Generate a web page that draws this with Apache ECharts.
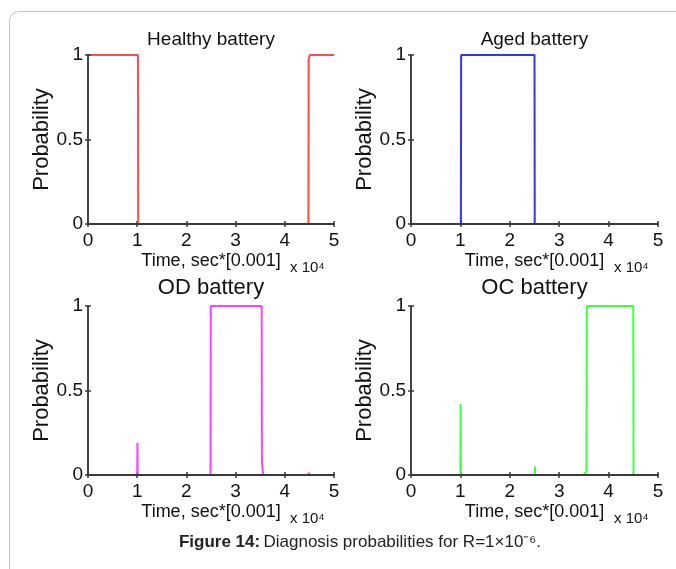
<!DOCTYPE html>
<html lang="en">
<head>
<meta charset="utf-8">
<title>Diagnosis probabilities</title>
<script src="https://cdn.jsdelivr.net/npm/echarts@6/dist/echarts.min.js"></script>
<style>
  html, body { margin: 0; padding: 0; background: #fff; }
  #frame { position: absolute; left: 9px; top: 11px; width: 700px; height: 600px;
           border-left: 1px solid #c4c4c4; border-top: 1px solid #c4c4c4; border-top-left-radius: 10px; }
  #main { position: absolute; left: 0; top: 0; width: 676px; height: 569px; }
</style>
</head>
<body>
<div id="frame"></div>
<div id="main"></div>
<script type="text/javascript">
// time (sec*[0.001]) and probability for each battery state
var healthyT = [0, 10150, 10200, 44800, 44850, 45050, 45100, 50000];
var healthyP = [1, 1, 0, 0, 0.975, 0.975, 1, 1];

var agedT = [0, 10100, 10150, 25000, 25050, 50000];
var agedP = [0, 0, 1, 1, 0, 0];

var odT = [0, 10000, 10050, 10100, 24900, 24950, 35300, 35350, 35550, 35600, 44800, 44850, 45000, 45050, 50000];
var odP = [0, 0, 0.19, 0, 0, 1, 1, 0.08, 0.08, 0, 0, 0.014, 0.014, 0, 0];

var ocT = [0, 10000, 10050, 10100, 25050, 25100, 25150, 34900, 35500, 35600, 45000, 45050, 50000];
var ocP = [0, 0, 0.42, 0, 0, 0.05, 0, 0, 0.02, 1, 1, 0, 0];

var titles = ['Healthy battery', 'Aged battery', 'OD battery', 'OC battery'];
var colors = ['#ff4d4d', '#3333ff', '#ff40ff', '#40ff40'];

var FONT = 'Liberation Sans, Arial, sans-serif';

function pairs(t, p) {
    var out = [];
    for (var i = 0; i < t.length; i++) out.push([t[i], p[i]]);
    return out;
}
var seriesData = [pairs(healthyT, healthyP), pairs(agedT, agedP), pairs(odT, odP), pairs(ocT, ocP)];

var boxes = [
    { left: 88, top: 55, width: 246, height: 169 },
    { left: 411, top: 55, width: 247, height: 169 },
    { left: 88, top: 306, width: 246, height: 169 },
    { left: 411, top: 306, width: 247, height: 169 }
];

var grid = [], xAxis = [], yAxis = [], series = [], graphic = [];
var lineStyle = { color: '#3a3a3a', width: 1.5 };

for (var k = 0; k < 4; k++) {
    var b = boxes[k];
    grid.push({ left: b.left, top: b.top, width: b.width, height: b.height, containLabel: false });

    // bottom axis with labels (drawn under the data, as in the original)
    xAxis.push({
        type: 'value', gridIndex: k, min: 0, max: 50000, interval: 10000, position: 'bottom', z: 0,
        name: 'Time, sec*[0.001]', nameLocation: 'middle', nameGap: 28,
        nameTextStyle: { fontFamily: FONT, fontSize: 18, color: '#111' },
        axisLine: { show: true, lineStyle: lineStyle },
        axisTick: { show: true, inside: true, length: 3, lineStyle: lineStyle },
        axisLabel: { fontFamily: FONT, fontSize: 19, color: '#111', margin: 7,
                     formatter: function (v) { return String(v / 10000); } },
        splitLine: { show: false }
    });
    // top axis, ticks only, over the data
    xAxis.push({
        type: 'value', gridIndex: k, min: 0, max: 50000, interval: 10000, position: 'top', z: 5,
        axisLine: { show: true, lineStyle: { color: '#3a3a3a', width: 2.2 } },
        axisTick: { show: true, inside: true, length: 3, lineStyle: lineStyle },
        axisLabel: { show: false }, splitLine: { show: false }
    });
    yAxis.push({
        type: 'value', gridIndex: k, min: 0, max: 1, interval: 0.5, position: 'left', z: 5,
        name: 'Probability', nameLocation: 'middle', nameGap: 33,
        nameTextStyle: { fontFamily: FONT, fontSize: 22, color: '#111' },
        axisLine: { show: true, lineStyle: lineStyle },
        axisTick: { show: true, inside: true, length: 3, lineStyle: lineStyle },
        axisLabel: { fontFamily: FONT, fontSize: 19, color: '#111', margin: 5 },
        splitLine: { show: false }
    });
    yAxis.push({
        type: 'value', gridIndex: k, min: 0, max: 1, interval: 0.5, position: 'right', z: 5,
        axisLine: { show: true, lineStyle: lineStyle },
        axisTick: { show: true, inside: true, length: 3, lineStyle: lineStyle },
        axisLabel: { show: false }, splitLine: { show: false }
    });

    series.push({
        type: 'line', xAxisIndex: 2 * k, yAxisIndex: 2 * k,
        data: seriesData[k], showSymbol: false, symbol: 'none',
        lineStyle: { color: colors[k], width: 2 }, z: 2
    });

    // subplot title
    graphic.push({
        type: 'text', x: b.left + b.width / 2, y: k < 2 ? b.top - 15 : b.top - 18,
        style: { text: titles[k], font: (k < 2 ? 19 : 22) + 'px ' + FONT, fill: '#111',
                 textAlign: 'center', textVerticalAlign: 'middle' }
    });
    // exponent note
    graphic.push({
        type: 'text', x: b.left + b.width - 44, y: b.top + b.height + 44,
        style: { text: 'x 10\u2074', font: '15px ' + FONT, fill: '#111', textVerticalAlign: 'middle' }
    });
}

graphic.push({
    type: 'text', x: 360, y: 542,
    style: {
        text: '{b|Figure 14:} {n|Diagnosis probabilities for R=1\u00d710\u207b\u2076.}',
        textAlign: 'center', textVerticalAlign: 'middle',
        rich: {
            b: { fontFamily: FONT, fontSize: 17, fontWeight: 'bold', fill: '#222' },
            n: { fontFamily: FONT, fontSize: 17, fill: '#222' }
        }
    }
});

var myChart = echarts.init(document.getElementById('main'));
var option = {
    animation: false,
    backgroundColor: 'transparent',
    grid: grid, xAxis: xAxis, yAxis: yAxis, series: series, graphic: graphic
};
myChart.setOption(option);
</script>
</body>
</html>
